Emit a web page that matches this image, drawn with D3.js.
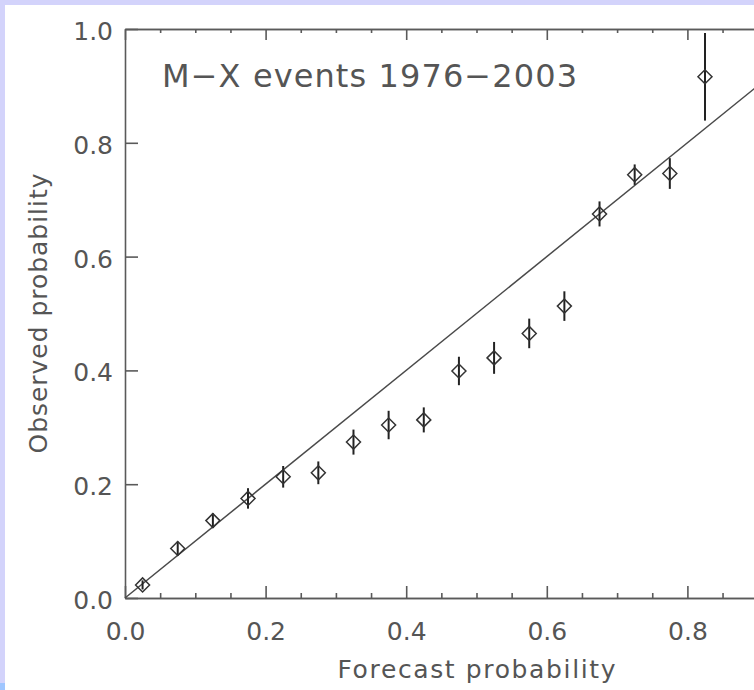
<!DOCTYPE html>
<html>
<head>
<meta charset="utf-8">
<script src="https://cdn.jsdelivr.net/npm/d3@7/dist/d3.min.js"></script>
<style>
    body { margin: 0; background: #ffffff; }
    svg { display: block; }
    .axis path, .axis line { stroke: #5a5a5a; stroke-width: 1.6; }
    .axis text { fill: #555; font-family: "DejaVu Sans", sans-serif; font-size: 25px; }
    .label { fill: #555; font-family: "DejaVu Sans", sans-serif; font-size: 25px; }
    .title { fill: #555; font-family: "DejaVu Sans", sans-serif; font-size: 32px; }
</style>
</head>
<body>
<svg id="chart" width="754" height="690"></svg>
<script>
// forecast bin centres and the observed frequency in each bin
const forecast = [0.025, 0.075, 0.125, 0.175, 0.225, 0.275, 0.325, 0.375, 0.425,
                  0.475, 0.525, 0.575, 0.625, 0.675, 0.725, 0.775, 0.825];
const observed = [0.023, 0.087, 0.136, 0.175, 0.213, 0.220, 0.274, 0.304, 0.313,
                  0.399, 0.422, 0.465, 0.513, 0.675, 0.744, 0.746, 0.916];
// one-sigma uncertainty on each observed value
const errors   = [0.008, 0.012, 0.013, 0.018, 0.019, 0.020, 0.022, 0.025, 0.022,
                  0.025, 0.028, 0.026, 0.026, 0.022, 0.018, 0.027, 0.077];

const yTicks = [0, 0.2, 0.4, 0.6, 0.8, 1.0];
const xTicks = [0, 0.2, 0.4, 0.6, 0.8];
const minorTicks = d3.range(0, 21).map(i => i * 0.05).filter(v => Math.round(v * 100) % 20 !== 0);
const titleText = "M\u2212X events 1976\u22122003";
const xTitle = "Forecast probability";
const yTitle = "Observed probability";

/** Reliability diagram: observed vs forecast probability. */
class ReliabilityPlot {
    constructor() {
        this.svg = d3.select("#chart");
        this.left = 125;
        this.top = 29;
        this.bottom = 598;
        this.x = d3.scaleLinear().domain([0, 1]).range([this.left, 828]);
        this.y = d3.scaleLinear().domain([0, 1]).range([this.bottom, this.top]);
    }

    drawFrame() {
        // lavender page border on the top and left
        this.svg.append("rect")
            .attr("width", 754).attr("height", 690)
            .attr("fill", "#d3d3fb");
        this.svg.append("rect")
            .attr("x", 5).attr("y", 5)
            .attr("width", 749).attr("height", 685)
            .attr("fill", "#ffffff");
        this.svg.append("rect")
            .attr("x", 0).attr("y", 683)
            .attr("width", 5).attr("height", 7)
            .attr("fill", "#9fc6ff");
    }

    drawAxes() {
        let fmt = d3.format(".1f");

        // bottom axis, ticks pointing inwards
        this.svg.append("g")
            .attr("class", "axis")
            .attr("transform", "translate(0," + this.bottom + ")")
            .call(d3.axisBottom(this.x).tickValues(xTicks).tickSize(-12)
                .tickSizeOuter(0).tickPadding(24).tickFormat(fmt));
        this.svg.append("g")
            .attr("class", "axis")
            .attr("transform", "translate(0," + this.bottom + ")")
            .call(d3.axisBottom(this.x).tickValues(minorTicks).tickSize(-5)
                .tickSizeOuter(0).tickFormat(""));

        // top axis without labels
        this.svg.append("g")
            .attr("class", "axis")
            .attr("transform", "translate(0," + this.top + ")")
            .call(d3.axisTop(this.x).tickValues(xTicks).tickSize(-11)
                .tickSizeOuter(0).tickFormat(""));
        this.svg.append("g")
            .attr("class", "axis")
            .attr("transform", "translate(0," + this.top + ")")
            .call(d3.axisTop(this.x).tickValues(minorTicks).tickSize(-4)
                .tickSizeOuter(0).tickFormat(""));

        // left axis, major ticks only
        let yAxis = this.svg.append("g")
            .attr("class", "axis")
            .attr("transform", "translate(" + this.left + ",0)")
            .call(d3.axisLeft(this.y).tickValues(yTicks).tickSize(-13)
                .tickSizeOuter(0).tickPadding(12).tickFormat(fmt));
        yAxis.selectAll("text").attr("dy", "0.42em");

        this.svg.append("text")
            .attr("class", "label")
            .attr("x", this.x(0.5)).attr("y", 678)
            .attr("text-anchor", "middle")
            .attr("textLength", 278).attr("lengthAdjust", "spacing")
            .text(xTitle);

        this.svg.append("text")
            .attr("class", "label")
            .attr("transform", "translate(47," + (this.top + this.bottom) / 2 + ") rotate(-90)")
            .attr("text-anchor", "middle")
            .attr("textLength", 280).attr("lengthAdjust", "spacing")
            .text(yTitle);

        this.svg.append("text")
            .attr("class", "title")
            .attr("x", 162).attr("y", 87)
            .attr("textLength", 415).attr("lengthAdjust", "spacing")
            .text(titleText);
    }

    drawData() {
        let x = this.x, y = this.y;
        let points = forecast.map((f, i) => ({f: f, o: observed[i], e: errors[i]}));

        // perfect-reliability diagonal
        this.svg.append("line")
            .attr("x1", x(0)).attr("y1", y(0))
            .attr("x2", x(1)).attr("y2", y(1))
            .attr("stroke", "#4a4a4a")
            .attr("stroke-width", 1.5);

        this.svg.selectAll(".err")
            .data(points)
            .enter()
            .append("line")
            .classed("err", true)
            .attr("x1", d => x(d.f)).attr("x2", d => x(d.f))
            .attr("y1", d => y(d.o - d.e)).attr("y2", d => y(d.o + d.e))
            .attr("stroke", "#222")
            .attr("stroke-width", 2);

        this.svg.selectAll(".pt")
            .data(points)
            .enter()
            .append("path")
            .classed("pt", true)
            .attr("d", d => {
                let cx = x(d.f), cy = y(d.o);
                return "M" + (cx - 7) + "," + cy + "L" + cx + "," + (cy - 7) +
                       "L" + (cx + 7) + "," + cy + "L" + cx + "," + (cy + 7) + "Z";
            })
            .attr("fill", "none")
            .attr("stroke", "#333")
            .attr("stroke-width", 1.5);
    }
}

let plot = new ReliabilityPlot();
plot.drawFrame();
plot.drawAxes();
plot.drawData();
</script>
</body>
</html>
